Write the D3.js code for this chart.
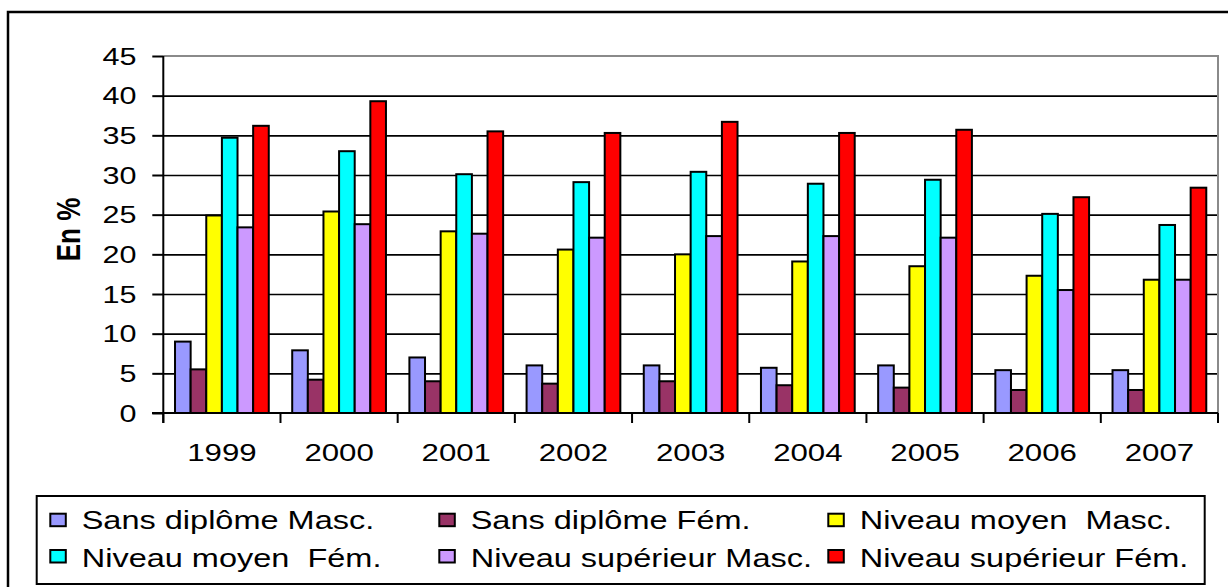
<!DOCTYPE html>
<html><head><meta charset="utf-8">
<script src="https://cdn.jsdelivr.net/npm/d3@7"></script>
<style>
html,body{margin:0;padding:0;background:#fff;overflow:hidden}
svg{display:block;font-family:"Liberation Sans",Arial,sans-serif}
</style></head>
<body><div id="chart"></div>
<script>
// data
const years=["1999","2000","2001","2002","2003","2004","2005","2006","2007"];
const seriesNames=["Sans diplôme Masc.","Sans diplôme Fém.","Niveau moyen  Masc.","Niveau moyen  Fém.","Niveau supérieur Masc.","Niveau supérieur Fém."];
const seriesColors=["#9999ff","#993366","#ffff00","#00ffff","#cc99ff","#ff0000"];
const sansMasc=[9.0,7.9,7.0,6.0,6.0,5.7,6.0,5.4,5.4];
const sansFem=[5.5,4.2,4.0,3.7,4.0,3.5,3.2,2.9,2.9];
const moyenMasc=[24.9,25.4,22.9,20.6,20.0,19.1,18.5,17.3,16.8];
const moyenFem=[34.7,33.0,30.1,29.1,30.4,28.9,29.4,25.1,23.7];
const supMasc=[23.4,23.8,22.6,22.1,22.3,22.3,22.1,15.5,16.8];
const supFem=[36.2,39.3,35.5,35.3,36.7,35.3,35.7,27.2,28.4];
const yTicks=[0,5,10,15,20,25,30,35,40,45];
const yTitle="En %";

(function(){
  const W=1228,H=587,sx=1.3; // the picture is stretched sideways, so text is too
  const values=[sansMasc,sansFem,moyenMasc,moyenFem,supMasc,supFem];
  const rows=years.map((y,i)=>({year:y,vals:values.map((s,k)=>({k,v:s[i]}))}));
  const L=163.3,R=1218,T=56,B=413;
  const svg=d3.select("#chart").append("svg").attr("width",W).attr("height",H);
  // outer frame runs off the right and bottom
  svg.append("rect").attr("x",8).attr("y",12).attr("width",1400).attr("height",800)
    .attr("fill","none").attr("stroke","#000").attr("stroke-width",2.5);
  const x0=d3.scaleBand().domain(years).range([L,R]).padding(0);
  const x1=d3.scaleBand().domain(d3.range(6)).range([0,x0.bandwidth()]).paddingInner(0).paddingOuter(0.75);
  const y=d3.scaleLinear().domain([0,45]).range([B,T]);
  // gridlines
  svg.append("g").attr("transform",`translate(${L},0)`)
    .call(d3.axisLeft(y).tickValues(yTicks.slice(1,-1)).tickSize(-(R-L)).tickFormat(""))
    .call(s=>s.select(".domain").remove())
    .call(s=>s.selectAll("line").attr("stroke","#000").attr("stroke-width",1.6));
  // plot area border (top/right grey)
  svg.append("path").attr("d",`M${L},${T}H${R}V${B}`).attr("fill","none").attr("stroke","#8a8a8a").attr("stroke-width",2);
  // bars
  svg.append("g").selectAll("g").data(rows).join("g")
    .attr("transform",d=>`translate(${x0(d.year)},0)`)
    .selectAll("rect").data(d=>d.vals).join("rect")
    .attr("x",d=>x1(d.k)).attr("width",x1.bandwidth())
    .attr("y",d=>y(d.v)).attr("height",d=>B-y(d.v))
    .attr("fill",d=>seriesColors[d.k]).attr("stroke","#000").attr("stroke-width",2);
  // y axis
  svg.append("g").attr("transform",`translate(${L},0)`)
    .call(d3.axisLeft(y).tickValues(yTicks).tickSize(11).tickPadding(0))
    .call(s=>s.select(".domain").attr("d",`M0,${T}V${B+10}`).attr("stroke","#000").attr("stroke-width",2))
    .call(s=>s.selectAll("line").attr("stroke","#000").attr("stroke-width",2))
    .call(s=>s.selectAll("text").attr("x",-26.8/sx).attr("dy","0.34em").attr("transform",`scale(${sx},1)`)
      .attr("fill","#000").attr("font-size",23.5).attr("font-family","Liberation Sans, Arial, sans-serif"));
  // x axis
  svg.append("g").attr("transform",`translate(0,${B})`)
    .call(d3.axisBottom(x0).tickSize(0))
    .call(s=>s.select(".domain").attr("d",`M152,0H${R}`).attr("stroke","#000").attr("stroke-width",2))
    .call(s=>s.selectAll("text").attr("y",48).attr("dy",null).attr("transform",`scale(${sx},1)`)
      .attr("fill","#000").attr("font-size",24).attr("font-family","Liberation Sans, Arial, sans-serif"));
  svg.append("g").selectAll("line").data(years.concat(["end"])).join("line")
    .attr("x1",d=>d==="end"?R:x0(d)).attr("x2",d=>d==="end"?R:x0(d))
    .attr("y1",B).attr("y2",B+10).attr("stroke","#000").attr("stroke-width",2);
  // y title
  svg.append("text").attr("transform",`translate(80,229.5) scale(${sx},1) rotate(-90)`)
    .attr("text-anchor","middle").attr("font-size",26).attr("font-weight","bold").text(yTitle);
  // legend, three equal columns
  const lx=36.7,lw=1168,colW=389;
  svg.append("rect").attr("x",lx).attr("y",496).attr("width",lw).attr("height",88)
    .attr("fill","#fff").attr("stroke","#000").attr("stroke-width",2);
  const rowY=[512.7,549],baseY=[529.3,566.5];
  const lg=svg.append("g").selectAll("g").data(seriesNames).join("g");
  lg.append("rect").attr("x",(d,i)=>lx+13.6+colW*(i%3)).attr("y",(d,i)=>rowY[Math.floor(i/3)]+1)
    .attr("width",15.5).attr("height",12.5).attr("fill",(d,i)=>seriesColors[i])
    .attr("stroke","#000").attr("stroke-width",2);
  lg.append("text").attr("transform",(d,i)=>`translate(${lx+45+colW*(i%3)},${baseY[Math.floor(i/3)]}) scale(${sx},1)`)
    .style("white-space","pre").attr("font-size",25).attr("fill","#000").text(d=>d);
})();
</script></body></html>
